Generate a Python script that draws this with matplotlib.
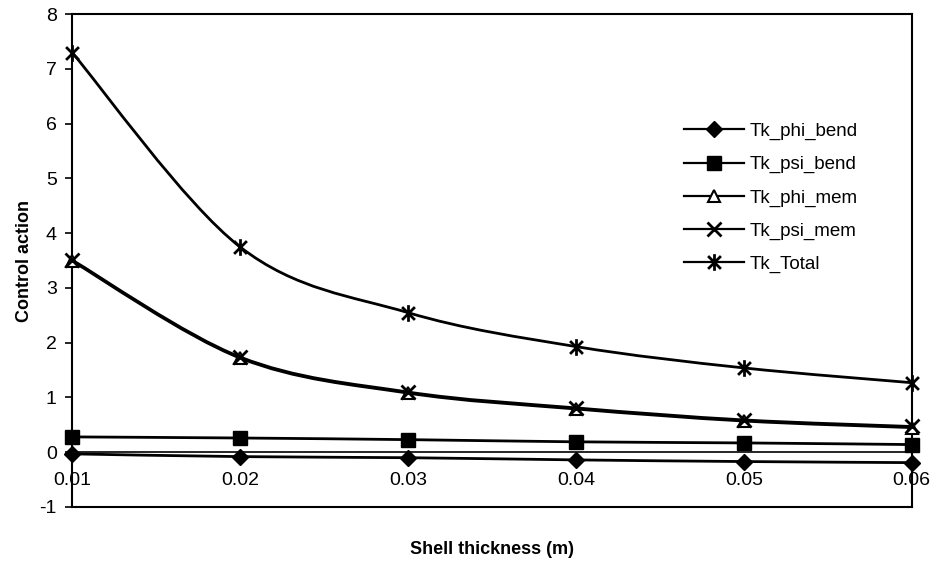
import matplotlib.pyplot as plt
import numpy as np
from matplotlib.path import Path
from matplotlib.patches import PathPatch
from matplotlib.lines import Line2D

plt.rcParams['font.family'] = ['Liberation Sans', 'DejaVu Sans']
plt.rcParams['axes.unicode_minus'] = False

# data
thickness = [0.01, 0.02, 0.03, 0.04, 0.05, 0.06]
tick_labels = ['0.01', '0.02', '0.03', '0.04', '0.05', '0.06']
tk_phi_bend = [-0.03, -0.08, -0.10, -0.14, -0.17, -0.19]
tk_psi_bend = [0.28, 0.26, 0.23, 0.19, 0.17, 0.14]
tk_phi_mem = [3.49, 1.72, 1.08, 0.79, 0.57, 0.45]
tk_psi_mem = [3.51, 1.74, 1.10, 0.81, 0.59, 0.47]
tk_total = [7.30, 3.75, 2.55, 1.93, 1.54, 1.27]
names = ['Tk_phi_bend', 'Tk_psi_bend', 'Tk_phi_mem', 'Tk_psi_mem', 'Tk_Total']

# excel style star: an x with a vertical bar
star = Path([(-1, -1), (1, 1), (-1, 1), (1, -1), (0, -1.3), (0, 1.3)],
            [Path.MOVETO, Path.LINETO, Path.MOVETO, Path.LINETO, Path.MOVETO, Path.LINETO])

styles = [
    dict(marker='D', ms=8, mfc='black', mec='black'),
    dict(marker='s', ms=10, mfc='black', mec='black'),
    dict(marker='^', ms=9, mfc='white', mec='black', mew=1.5),
    dict(marker='x', ms=10, mfc='black', mec='black', mew=2),
    dict(marker=star, ms=12, mfc='black', mec='black', mew=2),
]


def smooth_path(xs, ys):
    # bezier through the points, like excel's smoothed line
    p = np.column_stack([xs, ys])
    verts = [p[0]]
    codes = [Path.MOVETO]
    n = len(p)
    for i in range(n - 1):
        prev = p[i - 1] if i > 0 else p[i]
        nxt = p[i + 2] if i + 2 < n else p[i + 1]
        c1 = p[i] + (p[i + 1] - prev) / 6
        c2 = p[i + 1] - (nxt - p[i]) / 6
        verts += [c1, c2, p[i + 1]]
        codes += [Path.CURVE4] * 3
    return Path(verts, codes)


fig = plt.figure(figsize=(9.37, 5.69), dpi=100)
ax = fig.add_axes([0.077, 0.109, 0.896, 0.866])

series = [tk_phi_bend, tk_psi_bend, tk_phi_mem, tk_psi_mem, tk_total]
handles = []
for vals, st in zip(series, styles):
    ax.add_patch(PathPatch(smooth_path(thickness, vals), fill=False,
                           edgecolor='black', lw=2.0, zorder=3))
    ax.plot(thickness, vals, linestyle='none', color='black', zorder=4,
            clip_on=False, **st)
    handles.append(Line2D([], [], color='black', lw=1.6, **st))

ax.set_xlim(0.01, 0.06)
ax.set_ylim(-1, 8)
ax.set_yticks(range(-1, 9))
ax.set_xticks(thickness)
ax.set_xticklabels(tick_labels)

# category axis crosses at zero, plot area border still at -1
ax.spines['bottom'].set_position(('data', 0))
ax.spines['bottom'].set_linewidth(1.2)
ax.axhline(-1, color='black', lw=1.5, clip_on=False)
for s in ['left', 'right', 'top']:
    ax.spines[s].set_linewidth(1.5)

ax.tick_params(axis='x', length=0, pad=14, labelsize=14)
ax.tick_params(axis='y', length=5, width=1.2, direction='out', labelsize=14, pad=6)

ax.set_xlabel('Shell thickness (m)', fontsize=13, fontweight='bold')
ax.xaxis.set_label_coords(0.5, -0.07)
ax.set_ylabel('Control action', fontsize=13, fontweight='bold', labelpad=5)

ax.legend(handles, names, loc='upper left', bbox_to_anchor=(0.72, 0.795),
          frameon=False, fontsize=13.5, handlelength=3.2, handletextpad=0.3,
          labelspacing=0.85, borderaxespad=0)

fig.savefig('out.png', dpi=100)
